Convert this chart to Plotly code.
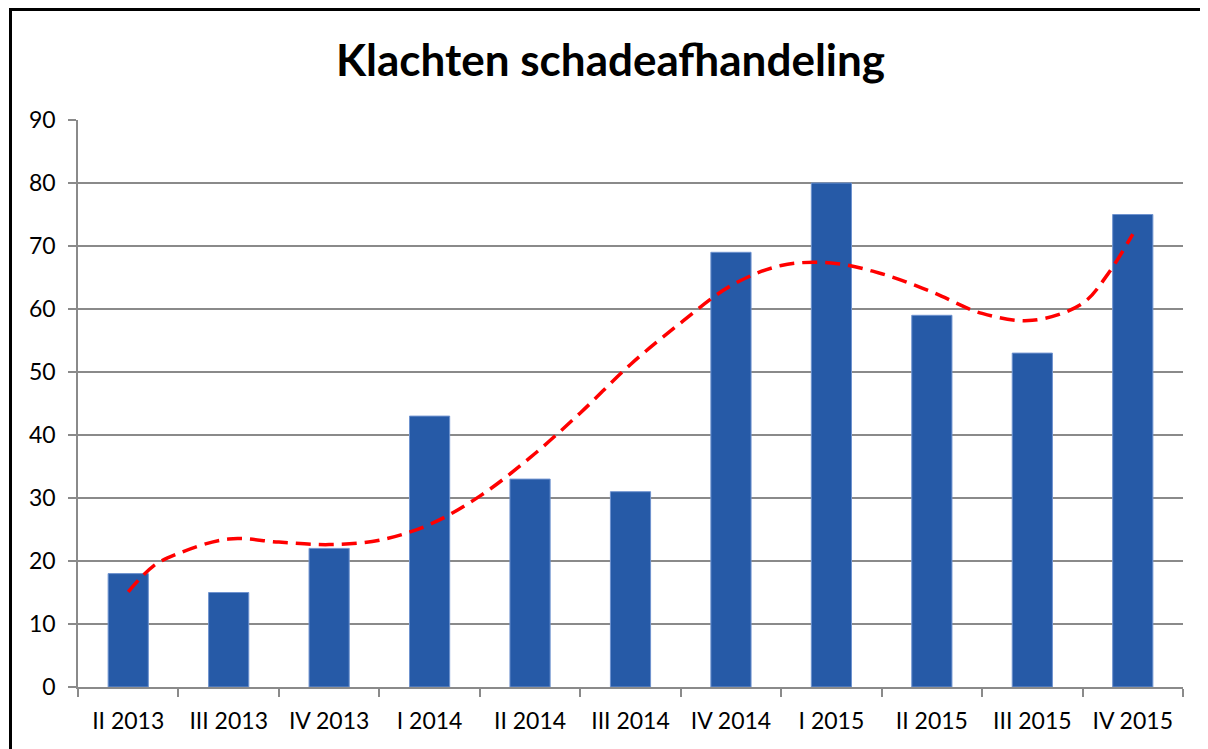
import plotly.graph_objects as go

categories = ["II 2013", "III 2013", "IV 2013", "I 2014", "II 2014", "III 2014",
              "IV 2014", "I 2015", "II 2015", "III 2015", "IV 2015"]
klachten = [18, 15, 22, 43, 33, 31, 69, 80, 59, 53, 75]

# trend line (position in category units, value)
trend_pos = [0, 0.25, 0.5, 1, 1.5, 2, 2.5, 3, 3.5, 4, 4.5, 5, 5.5, 6, 6.5, 7,
             7.5, 8, 8.5, 9, 9.5, 9.75, 10]
trend_val = [15.1, 19.2, 21.2, 23.5, 23.0, 22.6, 23.3, 25.8, 30.3, 36.4, 43.5, 51.2,
             57.8, 63.7, 66.9, 67.3, 65.6, 62.7, 59.3, 58.2, 60.9, 65.5, 71.9]

y_ticks = [0, 10, 20, 30, 40, 50, 60, 70, 80, 90]

FONT = "Lato, 'Open Sans', sans-serif"
GRID = "#8a8a8a"

fig = go.Figure()
fig.add_trace(go.Bar(
    x=categories, y=klachten,
    marker=dict(color="#265AA7", line=dict(color="#6f93cf", width=1)),
    width=0.4, showlegend=False, hoverinfo="x+y",
))
fig.add_trace(go.Scatter(
    x=trend_pos, y=trend_val, xaxis="x2", mode="lines",
    line=dict(color="#ff0000", width=3.5, dash="15px,8px", shape="spline", smoothing=1.0),
    showlegend=False, hoverinfo="skip",
))

# the page body adds an 8px offset; the figure is sized to fit the window
OFF = 8
W, H = 1208 - OFF, 749 - OFF
L, R, T, B = 78 - OFF, 25, 120 - OFF, 62
pw, ph = W - L - R, H - T - B

def px(x):  # absolute window x -> paper
    return (x - OFF - L) / pw

def py(y):  # absolute window y -> paper
    return (H - B - (y - OFF)) / ph

border = dict(color="black", width=3)

fig.update_layout(
    width=W, height=H,
    margin=dict(l=L, r=R, t=T, b=B, autoexpand=False),
    paper_bgcolor="white", plot_bgcolor="white",
    font=dict(family=FONT, color="black", size=23),
    title=dict(text="<b>Klachten schadeafhandeling</b>", xref="container", yref="container",
               x=(610.5 - OFF) / W, y=1 - (61 - OFF) / H, xanchor="center", yanchor="middle",
               font=dict(family=FONT, size=44, color="black")),
    xaxis=dict(type="category", showgrid=False, showline=True, linecolor=GRID, linewidth=1.5,
               ticks="outside", tickson="boundaries", ticklen=8, tickcolor=GRID, tickwidth=1.5,
               tickfont=dict(size=23, color="black"), range=[-0.5, 10.5], fixedrange=True,
               ticklabelstandoff=13),
    xaxis2=dict(overlaying="x", range=[-0.5, 10.5], visible=False, fixedrange=True),
    yaxis=dict(range=[0, 90], tickvals=y_ticks, showgrid=True, gridcolor=GRID, gridwidth=1.5,
               showline=True, linecolor=GRID, linewidth=1.5, ticks="outside", ticklen=8,
               tickcolor=GRID, tickwidth=1.5, tickfont=dict(size=23, color="black"),
               zeroline=False, ticklabelstandoff=8, fixedrange=True),
    bargap=0.6,
    shapes=[
        dict(type="line", xref="paper", yref="paper",
             x0=px(10.5), x1=px(10.5), y0=py(780), y1=py(9.5), line=border, layer="above"),
        dict(type="line", xref="paper", yref="paper",
             x0=px(9), x1=px(1240), y0=py(9.5), y1=py(9.5), line=border, layer="above"),
    ],
)

fig.write_html("out.html")
